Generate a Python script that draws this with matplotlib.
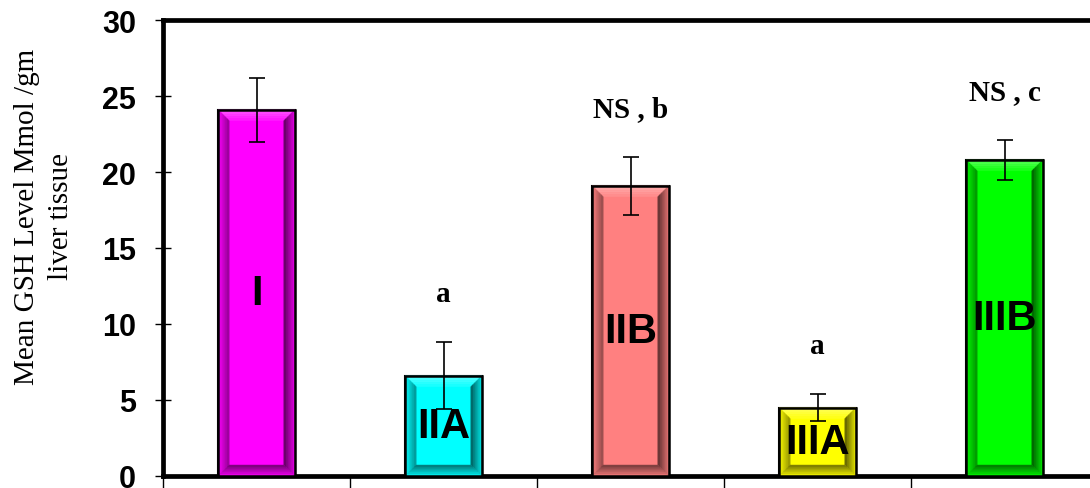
import numpy as np
import matplotlib
matplotlib.use("Agg")
import matplotlib.pyplot as plt
from matplotlib.patches import Polygon
import matplotlib.colors as mcolors

# GSH level per group
groups = ['I', 'IIA', 'IIB', 'IIIA', 'IIIB']
means = [24.1, 6.6, 19.1, 4.5, 20.8]
errors = [2.1, 2.2, 1.9, 0.9, 1.3]
marks = ['', 'a', 'NS , b', 'a', 'NS , c']
colors = ['#FF00FF', '#00FFFF', '#FF8080', '#FFFF00', '#00FF00']

fig = plt.figure(figsize=(10.9, 4.89), dpi=100)
ax = fig.add_axes([163 / 1090, 12 / 489, 935 / 1090, 456 / 489])

x = np.arange(len(groups))
bars = ax.bar(x, means, width=0.41, color=colors, edgecolor='black',
              linewidth=1.5, zorder=2)
ax.set_xlim(-0.5, len(groups) - 0.5)
ax.set_ylim(0, 30)


def shade(c, f):
    r, g, b = mcolors.to_rgb(c)
    if f < 1:
        return (r * f, g * f, b * f)
    f = f - 1
    return (r + (1 - r) * f, g + (1 - g) * f, b + (1 - b) * f)


# bevelled bar look, drawn as a few bands per side
bev_px = 11
nband = 5
ux = len(groups) / 935   # data units per pixel
uy = 30 / 456
# shade at outer edge -> inner edge
side_shades = {'top': (1.35, 1.1), 'left': (0.95, 0.62),
               'right': (0.85, 0.42), 'bottom': (0.9, 0.5)}
for rect, c in zip(bars, colors):
    x0 = rect.get_x()
    w = rect.get_width()
    h = rect.get_height()
    x1 = x0 + w
    for k in range(nband):
        a = bev_px * k / nband
        b = bev_px * (k + 1) / nband
        t = k / (nband - 1)
        ax_, bx_ = a * ux, b * ux
        ay_, by_ = a * uy, b * uy
        quads = {
            'top': [(x0 + ax_, h - ay_), (x1 - ax_, h - ay_), (x1 - bx_, h - by_), (x0 + bx_, h - by_)],
            'left': [(x0 + ax_, ay_), (x0 + ax_, h - ay_), (x0 + bx_, h - by_), (x0 + bx_, by_)],
            'right': [(x1 - ax_, ay_), (x1 - ax_, h - ay_), (x1 - bx_, h - by_), (x1 - bx_, by_)],
            'bottom': [(x0 + ax_, ay_), (x1 - ax_, ay_), (x1 - bx_, by_), (x0 + bx_, by_)],
        }
        for side, pts in quads.items():
            s0, s1 = side_shades[side]
            fc = shade(c, s0 + (s1 - s0) * t)
            ax.add_patch(Polygon(pts, closed=True, facecolor=fc, edgecolor=fc,
                                 linewidth=0.3, zorder=3))
    ax.add_patch(plt.Rectangle((x0, 0), w, h, facecolor='none', edgecolor='black',
                               linewidth=1.8, zorder=4))

ax.errorbar(x, means, yerr=errors, fmt='none', ecolor='black', elinewidth=1.2,
            capsize=6, capthick=1.2, zorder=5)

for xi, m, e, g, t in zip(x, means, errors, groups, marks):
    ax.text(xi, m / 2, g, ha='center', va='center', fontsize=30,
            fontweight='bold', family='Liberation Sans', zorder=6)
    if t:
        ax.text(xi, m + e + 3.2, t, ha='center', va='center', fontsize=21,
                fontweight='bold', family='Liberation Serif', zorder=6)

ax.set_yticks(np.arange(0, 31, 5))
ax.set_yticklabels([str(v) for v in range(0, 31, 5)], fontsize=22,
                   fontweight='bold', family='Liberation Sans')
ax.set_xticks(np.arange(-0.5, len(groups), 1.0))
ax.set_xticklabels([])
ax.tick_params(axis='y', direction='inout', length=11, width=1, pad=14)
ax.tick_params(axis='x', direction='out', length=9, width=1)

for s in ['left', 'top', 'bottom', 'right']:
    ax.spines[s].set_linewidth(3.4)

fig.text(44 / 1090, 1 - 217 / 489, 'Mean GSH Level Mmol /gm\nliver tissue',
         rotation=90, ha='center', va='center', fontsize=21,
         family='Liberation Serif', linespacing=1.35, multialignment='center')

fig.savefig('out.png', dpi=100)
